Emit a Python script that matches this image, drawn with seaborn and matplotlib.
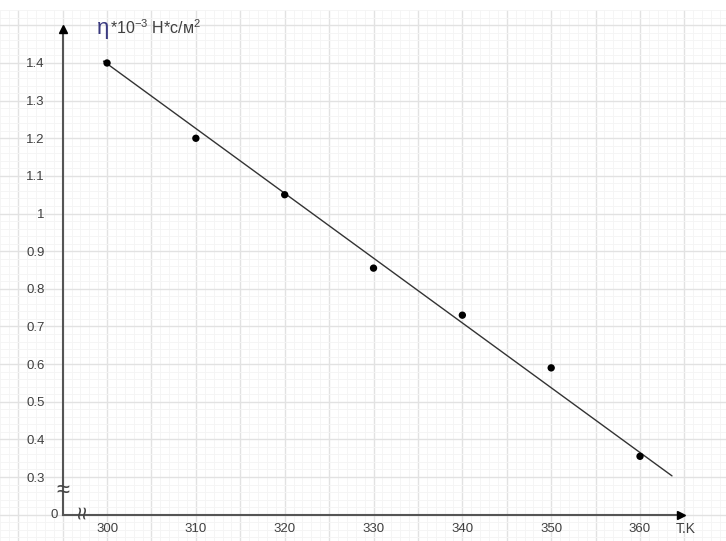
import numpy as np
import pandas as pd
import seaborn as sns
import matplotlib.pyplot as plt

# measured points: temperature (K) and viscosity (*10^-3 N*s/m^2)
temp = [300, 310, 320, 330, 340, 350, 360]
visc = [1.40, 1.20, 1.05, 0.855, 0.73, 0.59, 0.355]

# hand-drawn trend line end points
line_t = [299.6, 363.6]
line_v = [1.405, 0.303]

x_ticks = [300, 310, 320, 330, 340, 350, 360]
y_ticks = [0.3, 0.4, 0.5, 0.6, 0.7, 0.8, 0.9, 1.0, 1.1, 1.2, 1.3, 1.4]
y_labels = ["0.3", "0.4", "0.5", "0.6", "0.7", "0.8", "0.9", "1", "1.1", "1.2", "1.3", "1.4"]

df = pd.DataFrame({"T": temp, "eta": visc})
df_line = pd.DataFrame({"T": line_t, "eta": line_v})

sns.set_style("white")
plt.rcParams["font.family"] = ["Liberation Sans", "DejaVu Sans"]
plt.rcParams["mathtext.default"] = "regular"

fig = plt.figure(figsize=(7.26, 5.41), dpi=100)
ax = fig.add_axes([0, 0, 1, 531 / 541])

x0, y0 = 295, 0.2  # where the broken axes cross
ax.set_xlim(287.95, 369.68)
ax.set_ylim(0.130, 1.5408)

# graph paper background
for xv in np.arange(286, 371, 1):
    major = abs(xv % 5) < 1e-9
    ax.axvline(xv, color="#e2e2e2" if major else "#f4f4f4", lw=1.0 if major else 0.6, zorder=0)
for yv in np.arange(0.14, 1.56, 0.02):
    major = abs(round(yv * 50) % 5) == 0
    ax.axhline(yv, color="#e2e2e2" if major else "#f4f4f4", lw=1.0 if major else 0.6, zorder=0)

# data
sns.lineplot(data=df_line, x="T", y="eta", color="#333333", lw=1.0, ax=ax, zorder=3)
sns.scatterplot(data=df, x="T", y="eta", color="black", s=28, edgecolor="none", ax=ax, zorder=4)

# axes through the origin with arrows
for side in ["top", "right"]:
    ax.spines[side].set_visible(False)
ax.spines["left"].set_position(("data", x0))
ax.spines["bottom"].set_position(("data", y0))
ax.spines["left"].set_bounds(y0, 1.485)
ax.spines["bottom"].set_bounds(x0, 364.0)
for side in ["left", "bottom"]:
    ax.spines[side].set_color("#555555")
    ax.spines[side].set_linewidth(1.5)
ax.plot(x0, 1.491, marker="^", color="black", markersize=6, clip_on=False, zorder=5)
ax.plot(364.6, y0, marker=">", color="black", markersize=6, clip_on=False, zorder=5)

ax.set_xticks(x_ticks)
ax.set_yticks(y_ticks)
ax.set_yticklabels(y_labels)
ax.tick_params(axis="x", direction="out", length=4, width=1.2, color="#555555",
               labelsize=9.5, labelcolor="#404040", pad=2)
ax.tick_params(axis="y", direction="out", length=8, width=1.2, color="#555555",
               labelsize=9.5, labelcolor="#404040", pad=5)
ax.set_xlabel("")
ax.set_ylabel("")

# origin label and axis breaks
ax.text(294.5, y0, "0", fontsize=9.5, color="#404040", ha="right", va="center")
ax.text(x0, 0.262, "≈", fontsize=17, color="#444444", ha="center", va="center")
ax.text(297.5, y0 + 0.006, "≈", fontsize=17, color="#444444", ha="center", va="center", rotation=90)

# axis titles
ax.text(298.9, 1.476, "η", fontsize=16, color="#3b3b80", ha="left", va="baseline")
ax.text(300.3, 1.476, "*10$^{-3}$ Н*с/м$^{2}$", fontsize=11.5, color="#404040", ha="left", va="baseline")
ax.text(365.1, 0.163, "T.K", fontsize=10, color="#404040", ha="center", va="center")

fig.savefig("out.png", dpi=100)
